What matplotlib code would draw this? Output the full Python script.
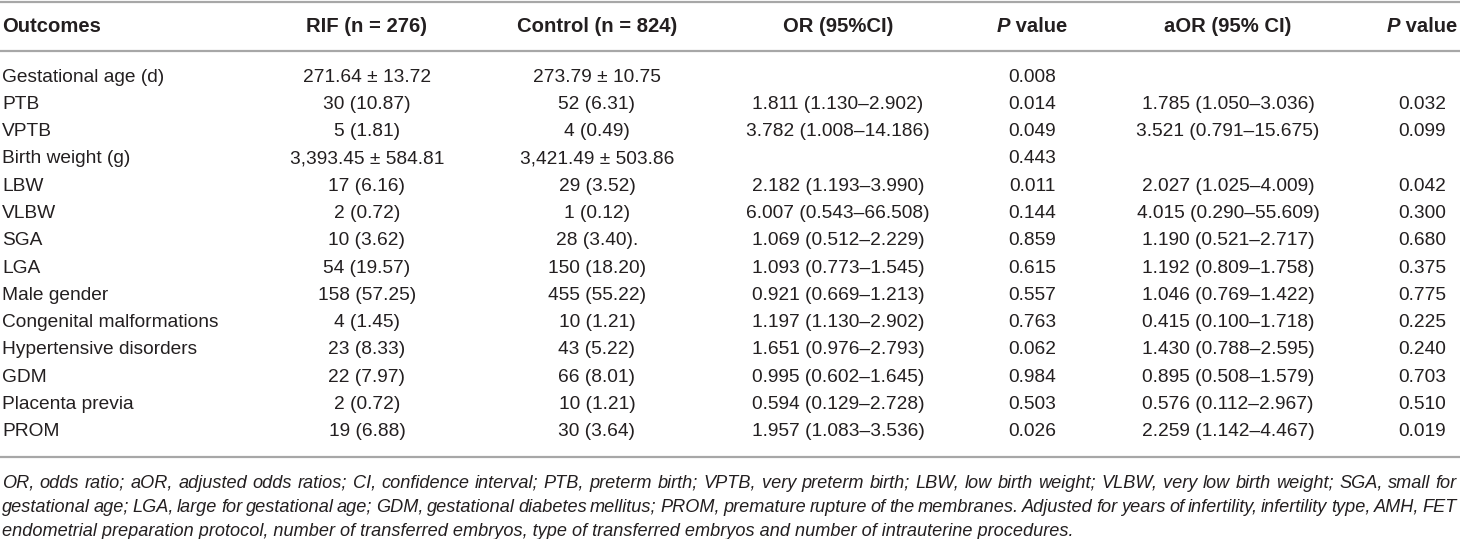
import matplotlib
matplotlib.use("Agg")
import matplotlib.pyplot as plt

plt.rcParams['font.family'] = ['Liberation Sans', 'DejaVu Sans']

headers = ["Outcomes", "RIF (n = 276)", "Control (n = 824)", "OR (95%CI)",
           "P value", "aOR (95% CI)", "P value"]

outcomes = ["Gestational age (d)", "PTB", "VPTB", "Birth weight (g)", "LBW", "VLBW",
            "SGA", "LGA", "Male gender", "Congenital malformations",
            "Hypertensive disorders", "GDM", "Placenta previa", "PROM"]
rif = ["271.64 ± 13.72", "30 (10.87)", "5 (1.81)", "3,393.45 ± 584.81", "17 (6.16)",
       "2 (0.72)", "10 (3.62)", "54 (19.57)", "158 (57.25)", "4 (1.45)", "23 (8.33)",
       "22 (7.97)", "2 (0.72)", "19 (6.88)"]
control = ["273.79 ± 10.75", "52 (6.31)", "4 (0.49)", "3,421.49 ± 503.86", "29 (3.52)",
           "1 (0.12)", "28 (3.40).", "150 (18.20)", "455 (55.22)", "10 (1.21)",
           "43 (5.22)", "66 (8.01)", "10 (1.21)", "30 (3.64)"]
or_ci = ["", "1.811 (1.130–2.902)", "3.782 (1.008–14.186)", "", "2.182 (1.193–3.990)",
         "6.007 (0.543–66.508)", "1.069 (0.512–2.229)", "1.093 (0.773–1.545)",
         "0.921 (0.669–1.213)", "1.197 (1.130–2.902)", "1.651 (0.976–2.793)",
         "0.995 (0.602–1.645)", "0.594 (0.129–2.728)", "1.957 (1.083–3.536)"]
p_or = ["0.008", "0.014", "0.049", "0.443", "0.011", "0.144", "0.859", "0.615",
        "0.557", "0.763", "0.062", "0.984", "0.503", "0.026"]
aor_ci = ["", "1.785 (1.050–3.036)", "3.521 (0.791–15.675)", "", "2.027 (1.025–4.009)",
          "4.015 (0.290–55.609)", "1.190 (0.521–2.717)", "1.192 (0.809–1.758)",
          "1.046 (0.769–1.422)", "0.415 (0.100–1.718)", "1.430 (0.788–2.595)",
          "0.895 (0.508–1.579)", "0.576 (0.112–2.967)", "2.259 (1.142–4.467)"]
p_aor = ["", "0.032", "0.099", "", "0.042", "0.300", "0.680", "0.375", "0.775",
         "0.225", "0.240", "0.703", "0.510", "0.019"]

footnote = [
    "OR, odds ratio; aOR, adjusted odds ratios; CI, confidence interval; PTB, preterm birth; "
    "VPTB, very preterm birth; LBW, low birth weight; VLBW, very low birth weight; SGA, small for",
    "gestational age; LGA, large for gestational age; GDM, gestational diabetes mellitus; "
    "PROM, premature rupture of the membranes. Adjusted for years of infertility, infertility type, AMH, FET",
    "endometrial preparation protocol, number of transferred embryos, type of transferred "
    "embryos and number of intrauterine procedures.",
]

W, H = 1460, 539
fig = plt.figure(figsize=(14.6, 5.39), dpi=100)
ax = fig.add_axes([0, 0, 1, 1])
ax.set_xlim(0, W)
ax.set_ylim(H, 0)
ax.axis('off')
renderer = fig.canvas.get_renderer()

ink = '#231f20'
rule = '#a7a7a7'
body_fs = 13.8
head_fs = 14.6
note_fs = 13.1

col_x = [2, 367, 597, 838, 1032, 1228, 1422]
head_y = 27
row_y0 = 77
row_dy = 27.3


def text_width(s, **kw):
    t = ax.text(0, 0, s, **kw)
    w = t.get_window_extent(renderer).width
    t.remove()
    return w


# rules
for y in [2, 51, 457]:
    ax.plot([0, W], [y, y], color=rule, lw=1.6, solid_capstyle='butt')

# header
for i, h in enumerate(headers):
    if i == 0:
        ax.text(col_x[i], head_y, h, ha='left', va='center', fontsize=head_fs,
                fontweight='bold', color=ink)
    elif h == "P value":
        kw_p = dict(fontsize=head_fs, fontweight='bold', fontstyle='italic')
        kw_v = dict(fontsize=head_fs, fontweight='bold')
        wp = text_width("P", **kw_p)
        wv = text_width(" value", **kw_v)
        x0 = col_x[i] - (wp + wv) / 2
        ax.text(x0, head_y, "P", ha='left', va='center', color=ink, **kw_p)
        ax.text(x0 + wp, head_y, " value", ha='left', va='center', color=ink, **kw_v)
    else:
        ax.text(col_x[i], head_y, h, ha='center', va='center', fontsize=head_fs,
                fontweight='bold', color=ink)

# body
columns = [outcomes, rif, control, or_ci, p_or, aor_ci, p_aor]
for r in range(len(outcomes)):
    y = row_y0 + r * row_dy
    for c, col in enumerate(columns):
        ax.text(col_x[c], y, col[r], ha='left' if c == 0 else 'center', va='center',
                fontsize=body_fs, color=ink)

# footnote, first lines justified
note_y0 = 483
note_dy = 24.5
x_left, x_right = 2, 1457
for k, line in enumerate(footnote):
    y = note_y0 + k * note_dy
    kw = dict(fontsize=note_fs, fontstyle='italic', color=ink)
    if k < len(footnote) - 1:
        words = line.split(' ')
        widths = [text_width(w_, **kw) for w_ in words]
        gap = (x_right - x_left - sum(widths)) / (len(words) - 1)
        x = x_left
        for w_, wd in zip(words, widths):
            ax.text(x, y, w_, ha='left', va='center', **kw)
            x += wd + gap
    else:
        ax.text(x_left, y, line, ha='left', va='center', **kw)

fig.savefig('out.png', dpi=100)
